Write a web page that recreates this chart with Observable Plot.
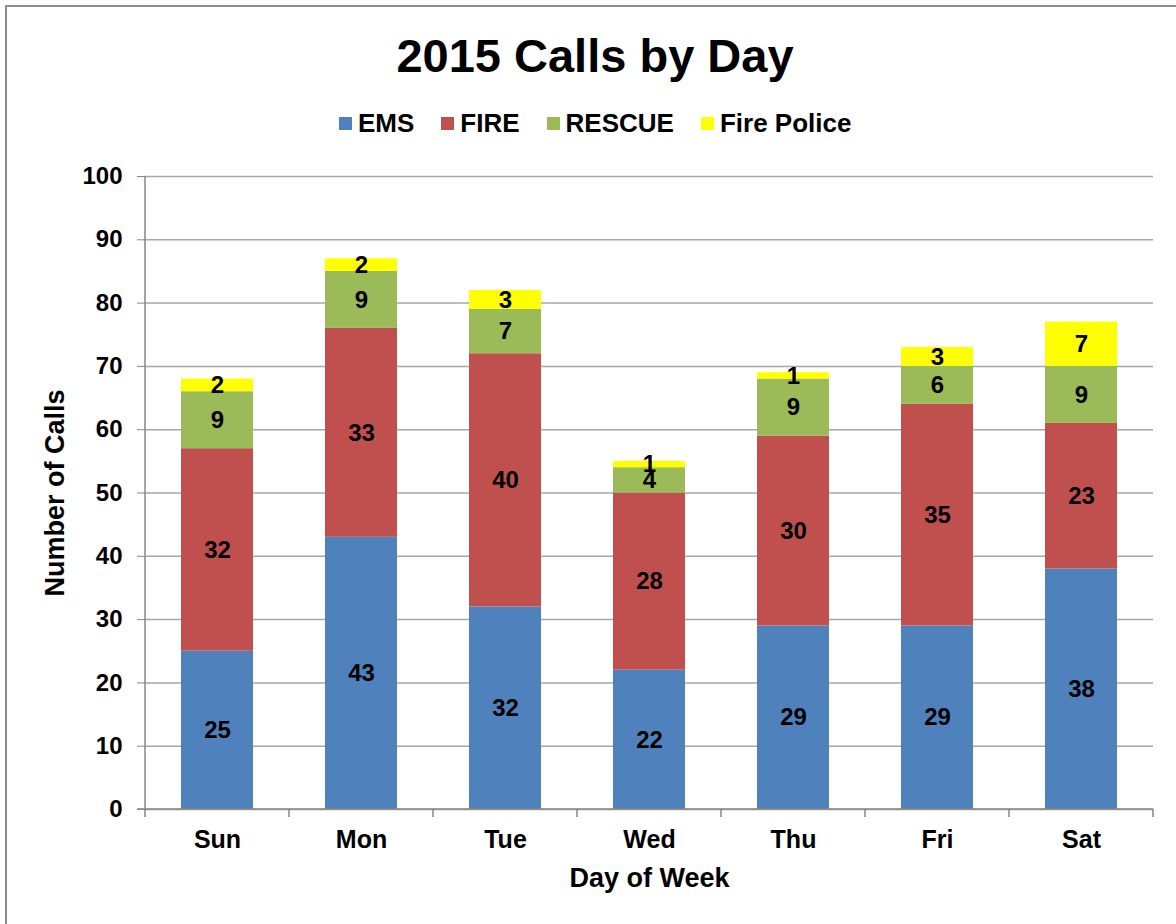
<!DOCTYPE html>
<html><head><meta charset="utf-8">
<script src="https://cdn.jsdelivr.net/npm/d3@7"></script>
<script src="https://cdn.jsdelivr.net/npm/@observablehq/plot@0.6"></script>
<style>
html,body{margin:0;padding:0;background:#fff;overflow:hidden}
#page{position:relative;width:1176px;height:924px;font-family:"Liberation Sans",Arial,sans-serif;font-weight:bold;color:#000;overflow:hidden}
#border{position:absolute;left:5px;top:5px;width:1300px;height:1100px;border:2px solid #8c8c8c;box-sizing:border-box;pointer-events:none}
#header{position:relative;height:150px}
#title{position:absolute;left:0;width:1190px;top:32px;text-align:center;font-size:47px;line-height:47px;white-space:nowrap}
#legend{position:absolute;left:339px;top:110px;display:flex;align-items:center;font-size:26px;line-height:26px;white-space:nowrap}
.item{display:flex;align-items:center;margin-right:27px}
.sw{width:13px;height:13px;margin-right:6px}
svg{display:block}
</style>
</head><body>
<div id="page">
  <div id="header"><div id="title"></div><div id="legend"></div></div>
  <div id="chart"></div>
  <div id="border"></div>
</div>
<script>
const title = "2015 Calls by Day";
const days = ["Sun", "Mon", "Tue", "Wed", "Thu", "Fri", "Sat"];
const types = ["EMS", "FIRE", "RESCUE", "Fire Police"];
const colors = ["#4F81BD", "#C0504D", "#9BBB59", "#FFFF00"];
const ems = [25, 43, 32, 22, 29, 29, 38];
const fire = [32, 33, 40, 28, 30, 35, 23];
const rescue = [9, 9, 7, 4, 9, 6, 9];
const firePolice = [2, 2, 3, 1, 1, 3, 7];
const yTicks = [0, 10, 20, 30, 40, 50, 60, 70, 80, 90, 100];
const xLabel = "Day of Week";
const yLabel = "Number of Calls";

const series = [ems, fire, rescue, firePolice];
const data = [];
types.forEach((t, i) => days.forEach((d, j) => data.push({day: d, type: t, value: series[i][j]})));

document.getElementById("title").textContent = title;
const legend = document.getElementById("legend");
types.forEach((t, i) => {
  const it = document.createElement("div"); it.className = "item";
  const sw = document.createElement("div"); sw.className = "sw"; sw.style.background = colors[i];
  const tx = document.createElement("span"); tx.textContent = t;
  it.appendChild(sw); it.appendChild(tx); legend.appendChild(it);
});

const font = "Liberation Sans, Arial, sans-serif";
const chart = Plot.plot({
  width: 1176,
  height: 774,
  marginTop: 26,
  marginBottom: 115,
  marginLeft: 145,
  marginRight: 23,
  style: {fontFamily: font, fontWeight: "bold", color: "#000", background: "#fff"},
  x: {domain: days, paddingInner: 0.5, paddingOuter: 0.25, label: null},
  y: {domain: [0, 100], label: null},
  color: {domain: types, range: colors},
  marks: [
    Plot.ruleY(yTicks, {stroke: "#a6a6a6", strokeWidth: 1.5}),
    Plot.barY(data, {x: "day", y: "value", fill: "type", z: "type"}),
    Plot.text(data, Plot.stackY({x: "day", y: "value", z: "type", text: "value", fontSize: 24, fontWeight: "bold", fill: "#000"})),
    Plot.axisY({ticks: yTicks, tickSize: 8, tickPadding: 15, fontSize: 24, stroke: "#868686", fill: "#000",
      label: yLabel, labelAnchor: "center", labelOffset: 101, labelArrow: "none", labelFontSize: 27}),
    Plot.axisX({tickSize: 0, tickPadding: 21, fontSize: 25, fill: "#000",
      label: xLabel, labelAnchor: "center", labelOffset: 77, labelArrow: "none"})
  ]
});
document.getElementById("chart").appendChild(chart);

const svg = d3.select(chart.tagName.toLowerCase() === "svg" ? chart : chart.querySelector("svg"));
// axis title sizes
svg.selectAll("g[aria-label='y-axis label'] text, g[aria-label='x-axis label'] text").attr("font-size", 27);

// axis lines and category-boundary ticks, from the plot's own scales
const xs = chart.scale("x"), ys = chart.scale("y");
const [xr0, xr1] = xs.range;
const yTop = ys.apply(100), yBot = ys.apply(0);
const g = svg.append("g").attr("stroke", "#868686").attr("stroke-width", 1.5);
g.append("line").attr("x1", xr0).attr("x2", xr0).attr("y1", yTop).attr("y2", yBot);
g.append("line").attr("x1", xr0 - 8).attr("x2", xr1).attr("y1", yBot).attr("y2", yBot);
const n = xs.domain.length;
for (let i = 0; i <= n; i++) {
  const x = xr0 + (xr1 - xr0) * i / n;
  g.append("line").attr("x1", x).attr("x2", x).attr("y1", yBot).attr("y2", yBot + 8);
}
</script>
</body></html>
